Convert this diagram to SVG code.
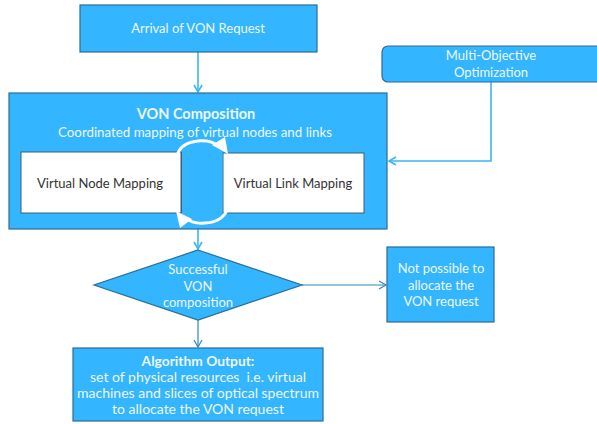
<svg xmlns="http://www.w3.org/2000/svg" width="597" height="424" viewBox="0 0 597 424">
  <style>
    .box { fill: #33b5ff; stroke: #2a6d96; stroke-width: 1.2; }
    .inner { fill: #ffffff; stroke: #3d5f78; stroke-width: 1; }
    .lbl { font-family: Lato, "Open Sans", sans-serif; font-size: 13px; fill: #eef8ff; text-anchor: middle; }
    .dark { font-family: Lato, "Open Sans", sans-serif; font-size: 13px; fill: #333333; text-anchor: middle; }
    .b { font-weight: bold; }
    .conn { fill: none; stroke: #3ab6f5; stroke-width: 1.6; }
    .conn2 { fill: none; stroke: #2f86bd; stroke-width: 1.2; }
    .loop { fill: none; stroke: #ffffff; stroke-width: 3; }
  </style>
  <defs>
    <marker id="arr" markerWidth="10" markerHeight="10" refX="8" refY="5" orient="auto" markerUnits="userSpaceOnUse">
      <path d="M1,1 L8,5 L1,9" fill="none" stroke="#3ab6f5" stroke-width="1.6"/>
    </marker>
    <marker id="arr2" markerWidth="10" markerHeight="10" refX="8" refY="5" orient="auto" markerUnits="userSpaceOnUse">
      <path d="M1,1 L8,5 L1,9" fill="none" stroke="#2f86bd" stroke-width="1.2"/>
    </marker>
  </defs>

  <g id="connectors">
    <path class="conn" d="M198,52 V92" marker-end="url(#arr)"/>
    <path class="conn" d="M491,82 V161 H389" marker-end="url(#arr)"/>
    <path class="conn" d="M198,229 V249" marker-end="url(#arr)"/>
    <path class="conn2" d="M302,285 H386" marker-end="url(#arr2)"/>
    <path class="conn2" d="M198,320 V347" marker-end="url(#arr2)"/>
  </g>

  <g id="arrival">
    <rect class="box" x="80" y="5" width="237" height="47"/>
    <text class="lbl" x="198" y="33">Arrival of VON Request</text>
  </g>

  <g id="moo">
    <rect class="box" x="382" y="46" width="222" height="36" rx="6"/>
    <text class="lbl" x="491" y="60">Multi-Objective</text>
    <text class="lbl" x="491" y="77">Optimization</text>
  </g>

  <g id="composition">
    <rect class="box" x="9" y="93" width="378" height="136"/>
    <text class="lbl b" x="196" y="119" style="font-size:14.5px">VON Composition</text>
    <text class="lbl" x="195" y="137" style="font-size:13.3px">Coordinated mapping of virtual nodes and links</text>
    <g id="vnm">
      <rect class="inner" x="21" y="152" width="160" height="61"/>
      <text class="dark" x="100" y="188">Virtual Node Mapping</text>
    </g>
    <g id="vlm">
      <rect class="inner" x="223" y="153" width="141" height="60"/>
      <text class="dark" x="293" y="188">Virtual Link Mapping</text>
    </g>
    <!-- blue gap between the two mapping boxes -->
    <rect x="181.5" y="152" width="41" height="61" fill="#33b5ff"/>
    <line x1="181.5" y1="152" x2="181.5" y2="213" stroke="#3d5f78" stroke-width="1"/>
    <!-- coordination loop -->
    <path class="loop" d="M177,156 Q180,143 198,141 Q212,140 218,146"/>
    <path d="M212,145 L228,154 L225,137 Z" fill="#ffffff"/>
    <path class="loop" d="M227,210 Q222,222 205,223 Q192,224 186,218"/>
    <path d="M192,219 L176,211 L180,228 Z" fill="#ffffff"/>
  </g>

  <g id="decision">
    <polygon class="box" points="198,250 302,285 198,320 94,285"/>
    <text class="lbl" x="198" y="274">Successful</text>
    <text class="lbl" x="198" y="291">VON</text>
    <text class="lbl" x="198" y="307">composition</text>
  </g>

  <g id="notpossible">
    <rect class="box" x="387" y="247" width="107" height="75"/>
    <text class="lbl" x="441" y="273">Not possible to</text>
    <text class="lbl" x="441" y="290">allocate the</text>
    <text class="lbl" x="441" y="306">VON request</text>
  </g>

  <g id="output">
    <rect class="box" x="73" y="348" width="250" height="73"/>
    <text class="lbl b" x="198" y="366" style="font-size:13.8px">Algorithm Output:</text>
    <text class="lbl" x="198" y="382" style="font-size:14px;white-space:pre">set of physical resources  i.e. virtual</text>
    <text class="lbl" x="198" y="398" style="font-size:14px">machines and slices of optical spectrum</text>
    <text class="lbl" x="198" y="414" style="font-size:14px">to allocate the VON request</text>
  </g>
</svg>
